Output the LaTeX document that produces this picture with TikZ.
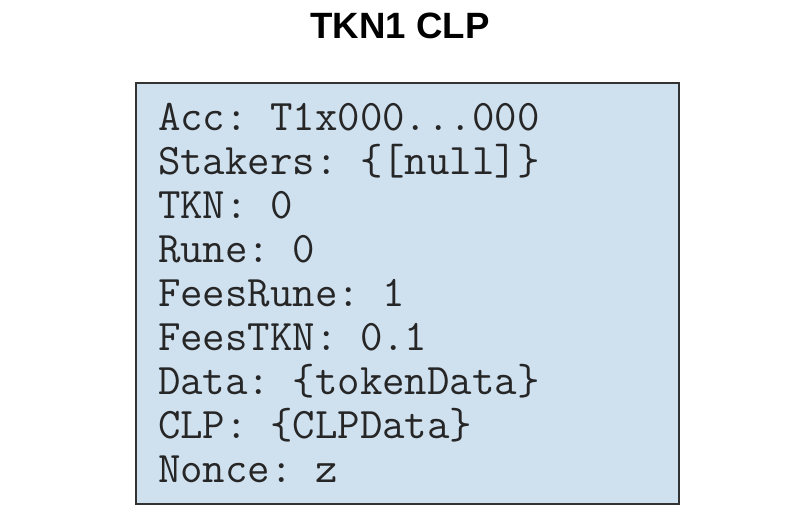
\documentclass[tikz,border=0pt]{standalone}
\usepackage{fontspec}
\setmainfont{Liberation Sans}
\usetikzlibrary{positioning}
\definecolor{clpfill}{HTML}{CFE0EF}
\definecolor{clpline}{HTML}{333333}

\begin{document}
\begin{tikzpicture}[x=0.5pt, y=-0.5pt,
        every node/.style={inner sep=0pt, outer sep=0pt},
        field/.style={anchor=base west, font=\fontsize{21.8}{24}\selectfont\ttfamily\frenchspacing, text=black!85}]
        \useasboundingbox (0,0) rectangle (800,520);
        % 标题
        \node[font=\fontsize{18.3}{20}\selectfont\bfseries, anchor=base] (title) at (400,38) {TKN1 CLP};
        % 池子方框
        \node[draw=clpline, fill=clpfill, line width=0.8pt,
              minimum width=271.5pt, minimum height=210.5pt] (clp) at (407.5,293.5) {};
        % 各字段
        \foreach \txt [count=\i] in {{Acc: T1x000{.}{.}{.}000}, {Stakers: \{[null]\}}, {TKN: 0}, {Rune: 0},
                {FeesRune: 1}, {FeesTKN: 0.1}, {Data: \{tokenData\}}, {CLP: \{CLPData\}}, {Nonce: z}}
            \node[field] (f\i) at (158, {130+44*(\i-1)}) {\txt};
    \end{tikzpicture}
\end{document}
